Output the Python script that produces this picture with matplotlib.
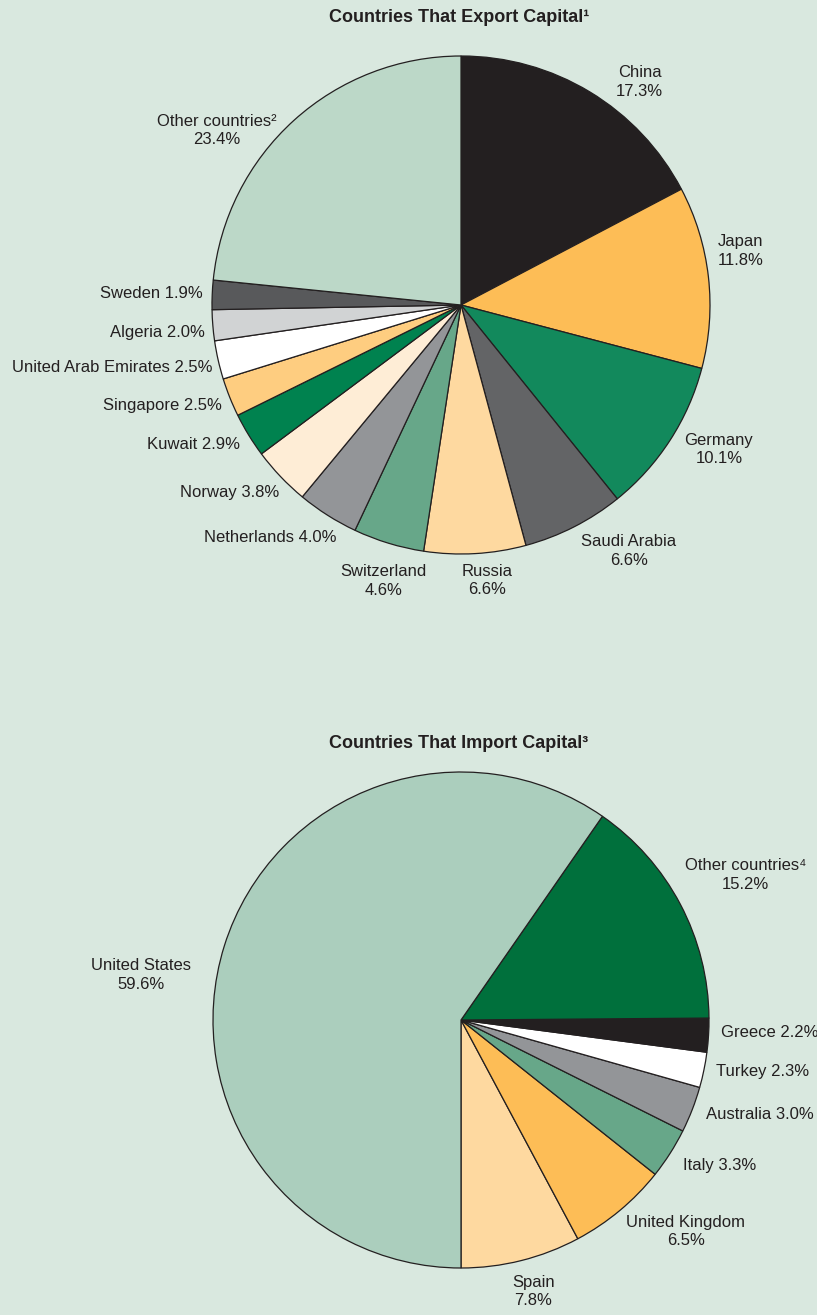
import matplotlib
matplotlib.use("Agg")
import numpy as np
import matplotlib.pyplot as plt

# --- data -----------------------------------------------------------------
export_countries = ["China", "Japan", "Germany", "Saudi Arabia", "Russia",
                    "Switzerland", "Netherlands", "Norway", "Kuwait",
                    "Singapore", "United Arab Emirates", "Algeria", "Sweden",
                    "Other countries\u00b2"]
export_shares = [17.3, 11.8, 10.1, 6.6, 6.6, 4.6, 4.0, 3.8, 2.9, 2.5, 2.5,
                 2.0, 1.9, 23.4]

import_countries = ["Spain", "United Kingdom", "Italy", "Australia", "Turkey",
                    "Greece", "Other countries\u2074", "United States"]
import_shares = [7.8, 6.5, 3.3, 3.0, 2.3, 2.2, 15.2, 59.6]

# --- styles ---------------------------------------------------------------
BG = "#d9e8df"
TXT = "#231f20"
FONT = ["Liberation Sans", "DejaVu Sans"]

export_colors = ["#231f20", "#fdbd56", "#12895c", "#636466", "#fed9a0",
                 "#67a789", "#939598", "#feedd6", "#00824f", "#fecd80",
                 "#ffffff", "#d1d3d4", "#58595b", "#bcd8c8"]
# (two_line, ha, dx px, dy px) offsets from the wedge edge at mid angle
export_label_style = [(True, "center", 50, 10), (True, "center", 32, 26),
                      (True, "center", 49, -9), (True, "center", 55, -24),
                      (True, "center", 12, -27), (True, "center", -5, -38),
                      (False, "right", 9, -22), (False, "right", -1, -16),
                      (False, "right", -9, -9), (False, "right", -8, -8),
                      (False, "right", -6, -7), (False, "right", -8, -7),
                      (False, "right", -9, 1), (True, "center", -77, -10)]

import_colors = ["#fed9a0", "#fdbd56", "#67a789", "#939598", "#ffffff",
                 "#231f20", "#00703c", "#abcebd"]
import_label_style = [(True, "center", 12, -31), (True, "center", 66, -21),
                      (False, "left", 13, -12), (False, "left", 14, -5),
                      (False, "left", 12, -2), (False, "left", 12, 3),
                      (True, "center", 65, 29), (True, "center", -83, -29)]

W, H = 817, 1315
fig = plt.figure(figsize=(W / 100, H / 100), dpi=100, facecolor=BG)


def draw_pie(top_px, bottom_px, cx, cy, r, values, names, colors, styles,
             startangle, counterclock):
    ax = fig.add_axes([0, 1 - bottom_px / H, 1, (bottom_px - top_px) / H])
    ax.set_facecolor(BG)
    wedges, _ = ax.pie(values, colors=colors, startangle=startangle,
                       counterclock=counterclock, radius=1,
                       wedgeprops=dict(edgecolor="#231f20", linewidth=0.9))
    ax.set_xlim(-cx / r, (W - cx) / r)
    ax.set_ylim((cy - bottom_px) / r, (cy - top_px) / r)
    ax.set_aspect("auto")
    ax.axis("off")

    for w, name, val, (two, ha, dx, dy) in zip(wedges, names, values, styles):
        mid = np.deg2rad((w.theta1 + w.theta2) / 2)
        sep = "\n" if two else " "
        ax.annotate(f"{name}{sep}{val:.1f}%",
                    xy=(np.cos(mid), np.sin(mid)),
                    xytext=(dx, dy), textcoords="offset pixels",
                    ha=ha, va="center", fontsize=12, color=TXT,
                    family=FONT, linespacing=1.3,
                    multialignment="center")
    return ax


draw_pie(0, 650, 461, 305, 249, export_shares, export_countries,
         export_colors, export_label_style, 90, False)
draw_pie(650, 1315, 461, 1020, 248, import_shares, import_countries,
         import_colors, import_label_style, -90, True)

fig.text(459 / W, 1 - 18 / H, "Countries That Export Capital\u00b9",
         ha="center", va="center", fontsize=13, fontweight="bold",
         color=TXT, family=FONT)
fig.text(459 / W, 1 - 743 / H, "Countries That Import Capital\u00b3",
         ha="center", va="center", fontsize=13, fontweight="bold",
         color=TXT, family=FONT)

fig.savefig("out.png", dpi=100, facecolor=BG)
